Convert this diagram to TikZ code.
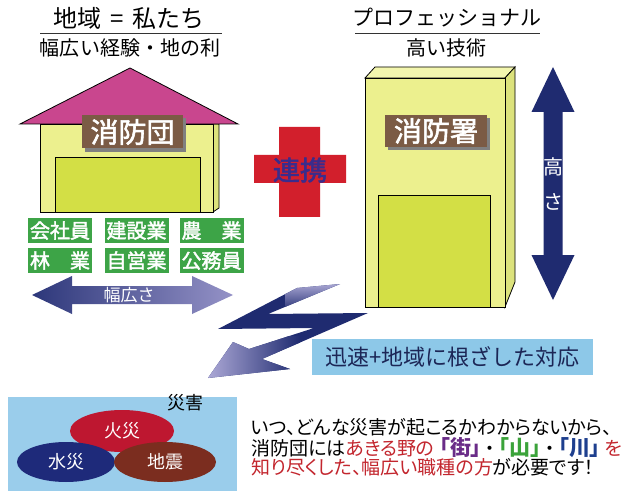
\documentclass[tikz,border=0pt]{standalone}
\usepackage{fontspec}
\setmainfont{Noto Sans CJK JP}
\newfontfamily\jpprop{Noto Sans CJK JP}[RawFeature=+palt]
\newfontfamily\jpmed{Noto Sans CJK JP}[FakeBold=2]
\usetikzlibrary{shapes.geometric}

\definecolor{roofpink}{HTML}{C9468E}
\definecolor{wallyel}{HTML}{ECF08E}
\definecolor{wallside}{HTML}{DCE27C}
\definecolor{walltop}{HTML}{F3F6AE}
\definecolor{winyel}{HTML}{D3DF45}
\definecolor{tagbrown}{HTML}{7B5B45}
\definecolor{tagshadow}{HTML}{808080}
\definecolor{jobgreen}{HTML}{3DA447}
\definecolor{navyA}{HTML}{1F2B70}
\definecolor{lavA}{HTML}{A9A4D6}
\definecolor{crossred}{HTML}{D21F2C}
\definecolor{linkblue}{HTML}{3A2C8C}
\definecolor{skyA}{HTML}{8DC8E8}
\definecolor{skyB}{HTML}{9ACDEB}
\definecolor{fireR}{HTML}{BE1730}
\definecolor{floodN}{HTML}{1E2A7A}
\definecolor{quakeB}{HTML}{7B2D1F}
\definecolor{txtred}{HTML}{C3262E}
\definecolor{txtpurple}{HTML}{6A2C88}
\definecolor{txtgreen}{HTML}{3BA33A}
\definecolor{txtblue}{HTML}{1E3F8E}
\definecolor{deepnavy}{HTML}{1C2656}

\newcommand\fsz[1]{\fontsize{#1bp}{#1bp}\selectfont}
\newcommand\placemark[2]{{\jpprop\bfseries\fontsize{21bp}{25bp}\selectfont\textcolor{#1}{#2}}}

% vertical fade: light at the bottom, navy above
\pgfdeclareverticalshading{heightfade}{100bp}{color(0bp)=(lavA); color(22bp)=(navyA); color(100bp)=(navyA)}

\begin{document}
\begin{tikzpicture}[x=1bp,y=-1bp,
  outline/.style={draw=black,line width=0.8bp},
  tagbox/.style={fill=tagbrown,text=white,minimum width=101bp,minimum height=33bp,inner sep=0pt,font=\jpmed\fsz{28}},
  jobbox/.style={fill=jobgreen,text=white,minimum width=64bp,minimum height=25bp,inner sep=0pt,font=\jpmed\fsz{20}},
  arrowtext/.style={text=white,inner sep=0pt},
  hazard/.style={ellipse,text=white,inner sep=0pt,font=\fsz{18}},
]
\useasboundingbox (0,0) rectangle (643,495);
\fill[white] (0,0) rectangle (643,495);

% ---- headings ----
\node (ttlL) at (129,18) {\fsz{24}地域\hspace{9bp}=\hspace{9bp}私たち};
\coordinate (ulLa) at (40,33); \coordinate (ulLb) at (222,33);
\draw[line width=0.8bp,black!80] (ulLa) -- (ulLb);
\node (subL) at (130,48) {\fsz{20}幅広い経験・地の利};

\node (ttlR) at (447,18) {\fsz{21}プロフェッショナル};
\coordinate (ulRa) at (355,33); \coordinate (ulRb) at (540,33);
\draw[line width=0.8bp,black!80] (ulRa) -- (ulRb);
\node (subR) at (446,48) {\fsz{20}高い技術};

% ---- fire brigade house ----
\filldraw[outline,fill=wallside] (213,124) -- (219,124) -- (219,208) -- (213,212) -- cycle;
\filldraw[outline,fill=wallyel] (40,124) rectangle (213,212);
\filldraw[outline,fill=winyel] (55,157) rectangle (200,212);
\filldraw[outline,fill=roofpink] (20,124) -- (130,68) -- (238,124) -- cycle;
\fill[tagshadow] (85,118) rectangle (186,152);
\node[tagbox] (tagA) at (132.5,132) {消防団};

% ---- occupations ----
\node[jobbox] (j1) at (60,230.5) {会社員};
\node[jobbox] (j2) at (136.5,230.5) {建設業};
\node[jobbox] (j3) at (211.5,230.5) {農\hspace{1em}業};
\node[jobbox] (j4) at (60,260.5) {林\hspace{1em}業};
\node[jobbox] (j5) at (136.5,260.5) {自営業};
\node[jobbox] (j6) at (211.5,260.5) {公務員};

% ---- width arrow ----
\shade[left color=navyA!90!lavA, middle color=navyA, right color=lavA!85!navyA]
  (32,295) -- (72,276) -- (72,286) -- (192,286) -- (192,276) -- (233,295)
  -- (192,314) -- (192,304) -- (72,304) -- (72,314) -- cycle;
\node[arrowtext,font=\fsz{17}] (wtxt) at (129,295) {幅広さ};

% ---- cooperation cross ----
\fill[crossred] (279,127) -- (320,127) -- (320,155) -- (346,155) -- (346,183)
  -- (320,183) -- (320,217) -- (279,217) -- (279,183) -- (254,183) -- (254,155)
  -- (279,155) -- cycle;
\node[text=linkblue,font=\jpmed\fsz{27},inner sep=0pt] (link) at (300,170) {連携};

% ---- fire station building ----
\filldraw[outline,fill=walltop] (365,78) -- (375,67) -- (515,67) -- (505,78) -- cycle;
\filldraw[outline,fill=wallside] (505,78) -- (515,67) -- (515,282) -- (505,307) -- cycle;
\filldraw[outline,fill=wallyel] (365,78) rectangle (505,307);
\filldraw[outline,fill=winyel] (378,195) rectangle (490,307);
\fill[tagshadow] (388,118) rectangle (490,150);
\node[tagbox,minimum width=102bp,minimum height=32bp] (tagB) at (436,131) {消防署};

% ---- height arrow ----
\shade[shading=heightfade]
  (553,67) -- (574.5,112) -- (562.5,112) -- (562.5,255) -- (574.5,255) -- (553,300)
  -- (531.5,255) -- (543.5,255) -- (543.5,112) -- (531.5,112) -- cycle;
\node[arrowtext,font=\fsz{20},align=center] (htxt1) at (553,167) {高};
\node[arrowtext,font=\fsz{20},align=center] (htxt2) at (553,202) {さ};

% ---- lightning bolt: navy body, tips fading to lavender ----
\begin{scope}
  \clip (297,288) -- (340,284) -- (268,314) -- (368,313) -- (262,359) -- (290,369)
    -- (208,378) -- (233,342) -- (249,349) -- (314,328) -- (218,329) -- cycle;
  \fill[navyA] (200,280) rectangle (372,382);
  \shade[top color=lavA!85!white, bottom color=navyA] (285,281) rectangle (345,312);
  \shade[left color=lavA!90!white, right color=navyA] (204,336) rectangle (300,382);
\end{scope}

% ---- rapid response banner ----
\node[fill=skyA,minimum width=281bp,minimum height=36bp,inner sep=0pt,
      text=deepnavy,font=\fsz{22}] (resp) at (452.5,357) {迅速+地域に根ざした対応};

% ---- disasters ----
\fill[skyB] (8,397) rectangle (237,491);
\node[font=\fsz{18},inner sep=0pt] (dis) at (185,403) {災害};
\node[hazard,fill=fireR,minimum width=104bp,minimum height=42bp] (fire) at (122,431) {火災};
\node[hazard,fill=floodN,minimum width=98bp,minimum height=40bp] (flood) at (66,462) {水災};
\node[hazard,fill=quakeB,minimum width=102bp,minimum height=40bp] (quake) at (165,462) {地震};

% ---- message ----
\node[anchor=west,align=left,inner sep=0pt,font=\jpprop\fsz{19}] (msg) at (251,447) {%
  \fontsize{19bp}{25bp}\selectfont
  いつ、どんな災害が起こるかわからないから、\\
  消防団には\textcolor{txtred}{あきる野の}\hspace{5bp}\placemark{txtpurple}{「街」}\hspace{4bp}・\hspace{4bp}\placemark{txtgreen}{「山」}\hspace{4bp}・\hspace{4bp}\placemark{txtblue}{「川」}\hspace{4bp}\textcolor{txtred}{を}\\
  \textcolor{txtred}{知り尽くした、幅広い職種の方}が必要です！};
\end{tikzpicture}
\end{document}
